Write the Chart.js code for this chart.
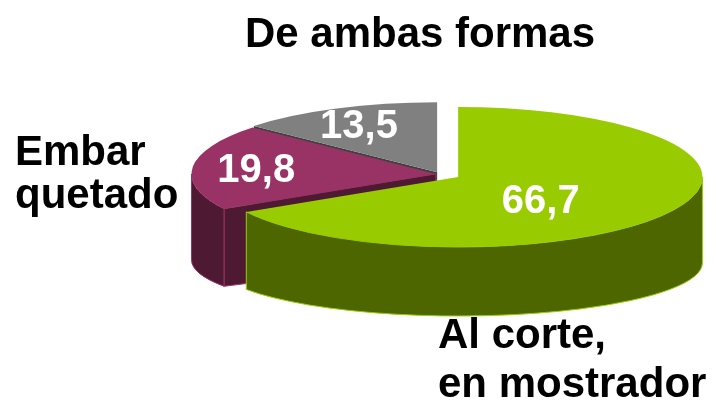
<!DOCTYPE html>
<html>
<head>
<meta charset="utf-8">
<script src="https://cdn.jsdelivr.net/npm/chart.js@4.4.1/dist/chart.umd.min.js"></script>
<style>
  body { margin: 0; background: #fff; }
  #wrap { width: 716px; height: 403px; }
</style>
</head>
<body>
<div id="wrap"><canvas id="pieChart"></canvas></div>
<script>
// Values
const categories = [['Al corte,', 'en mostrador'], ['Embar', 'quetado'], ['De ambas formas']];
const shares = [66.7, 19.8, 13.5];

// Look of the slices
const topColors = ['#99cc00', '#993366', '#808080'];
const sideColors = ['#4d6600', '#4d1933', '#404040'];
const edgeColors = ['#99cc00', '#993366', null];
const explode = [6, 1.2, 2]; // px along the middle of each slice (before stretching)
const labelAt = [[42.7, 0.46], [186.7, 0.74], [245.1, 0.76]]; // angle in deg, share of radius
const catPos = [[438, 348, 'left', 49], [15, 165, 'left', 43], [420, 47, 'center', 44]]; // x, baseline, align, line height

const stretchX = 3.49; // turns the round pie into a flat ellipse
const depth = 86;
const bottomRy = 53;
const valueFont = 'bold 40px "Liberation Sans", Arial, sans-serif';
const nameFont = 'bold 42px "Liberation Sans", Arial, sans-serif';

function pieCenter(chart) {
    const a = chart.chartArea;
    return { x: (a.left + a.right) / 2, y: (a.top + a.bottom) / 2 };
}

// Where an arc ends up on screen once the pie is stretched
function onScreen(chart, arc) {
    const c = pieCenter(chart);
    return {
        x: c.x + (arc.x - c.x) * stretchX,
        y: arc.y,
        rx: arc.outerRadius * stretchX,
        ry: arc.outerRadius
    };
}

const pie3d = {
    id: 'pie3d',
    afterUpdate(chart) {
        // pull the slices apart
        chart.getDatasetMeta(0).data.forEach((arc, i) => {
            const mid = (arc.startAngle + arc.endAngle) / 2;
            arc.x += Math.cos(mid) * explode[i];
            arc.y += Math.sin(mid) * explode[i];
        });
    },
    beforeDatasetsDraw(chart) {
        const ctx = chart.ctx;
        const arcs = chart.getDatasetMeta(0).data;

        // walls, from the back slice to the front one
        [2, 1, 0].forEach(i => {
            const arc = arcs[i];
            const s = onScreen(chart, arc);
            ctx.fillStyle = sideColors[i];
            ctx.strokeStyle = edgeColors[i] || sideColors[i];
            ctx.lineWidth = 1;

            // cut face along the start edge, when it looks at the viewer
            const a = arc.startAngle;
            if (Math.cos(a) < -0.01) {
                ctx.beginPath();
                ctx.moveTo(s.x, s.y);
                ctx.lineTo(s.x + s.rx * Math.cos(a), s.y + s.ry * Math.sin(a));
                ctx.lineTo(s.x + s.rx * Math.cos(a), s.y + depth + bottomRy * Math.sin(a));
                ctx.lineTo(s.x, s.y + depth);
                ctx.closePath();
                ctx.fill();
                if (edgeColors[i]) ctx.stroke();
            }

            // outer wall, only the front half shows
            [[0, Math.PI], [2 * Math.PI, 3 * Math.PI]].forEach(([lo, hi]) => {
                const a1 = Math.max(arc.startAngle, lo);
                const a2 = Math.min(arc.endAngle, hi);
                if (a2 <= a1) return;
                ctx.beginPath();
                ctx.ellipse(s.x, s.y, s.rx, s.ry, 0, a1, a2, false);
                ctx.ellipse(s.x, s.y + depth, s.rx, bottomRy, 0, a2, a1, true);
                ctx.closePath();
                ctx.fill();
                if (edgeColors[i]) ctx.stroke();
            });
        });

        // the tops are drawn by Chart.js inside this stretch
        const c = pieCenter(chart);
        ctx.save();
        ctx.translate(c.x, c.y);
        ctx.scale(stretchX, 1);
        ctx.translate(-c.x, -c.y);
    },
    afterDatasetsDraw(chart) {
        const ctx = chart.ctx;
        ctx.restore();

        const arcs = chart.getDatasetMeta(0).data;
        ctx.save();
        ctx.textBaseline = 'alphabetic';

        // values on the slices
        ctx.font = valueFont;
        ctx.fillStyle = '#fff';
        ctx.textAlign = 'center';
        arcs.forEach((arc, i) => {
            const s = onScreen(chart, arc);
            const ang = labelAt[i][0] * Math.PI / 180;
            const x = s.x + s.rx * labelAt[i][1] * Math.cos(ang);
            const y = s.y + s.ry * labelAt[i][1] * Math.sin(ang);
            ctx.fillText(shares[i].toFixed(1).replace('.', ','), x, y + 14);
        });

        // category names round the pie
        ctx.font = nameFont;
        ctx.fillStyle = '#000';
        chart.data.labels.forEach((lines, i) => {
            const [x, y, align, lh] = catPos[i];
            ctx.textAlign = align;
            lines.forEach((t, k) => ctx.fillText(t, x, y + k * lh));
        });
        ctx.restore();
    }
};

const ctx = document.getElementById('pieChart').getContext('2d');
const pieChart = new Chart(ctx, {
    type: 'pie',
    data: {
        labels: categories,
        datasets: [{
            data: shares,
            backgroundColor: topColors,
            borderWidth: 0,
            clip: false
        }]
    },
    options: {
        responsive: true,
        maintainAspectRatio: false,
        animation: false,
        events: [],
        radius: 70,
        layout: {
            padding: { left: 300, right: 136, top: 100, bottom: 155 }
        },
        plugins: {
            legend: { display: false },
            tooltip: { enabled: false }
        }
    },
    plugins: [pie3d]
});
</script>
</body>
</html>
